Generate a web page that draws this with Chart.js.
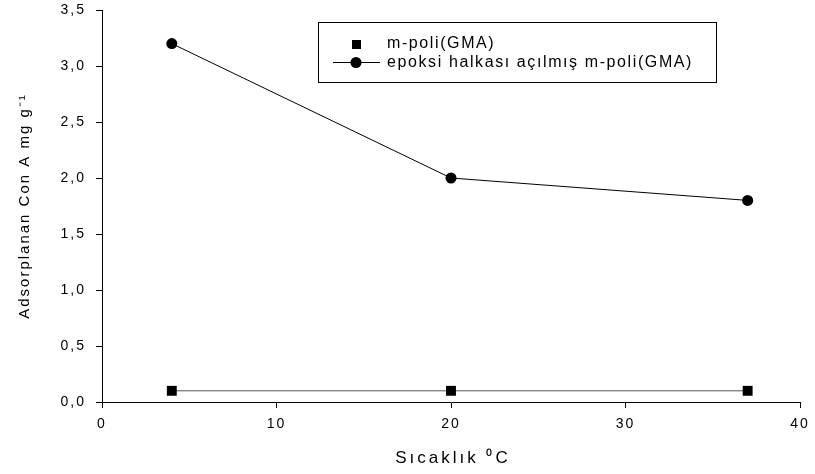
<!DOCTYPE html>
<html>
<head>
<meta charset="utf-8">
<script src="https://cdn.jsdelivr.net/npm/chart.js@4.4.1/dist/chart.umd.min.js"></script>
<style>
  html, body { margin: 0; padding: 0; background: #fff; }
  #wrap { width: 815px; height: 474px; position: relative; }
</style>
</head>
<body>
<div id="wrap"><canvas id="chart"></canvas></div>
<script>
// sıcaklık (°C) ve adsorplanan Con A miktarları
const temps = [4, 20, 37];
const mPoli = [0.1, 0.1, 0.1];
const epoksAcik = [3.2, 2.0, 1.8];
const xTicks = [0, 10, 20, 30, 40];
const yTicks = [0, 0.5, 1.0, 1.5, 2.0, 2.5, 3.0, 3.5];
const seriesNames = ['m-poli(GMA)', 'epoksi halkası açılmış m-poli(GMA)'];

const FONT = 'Liberation Sans, Arial, sans-serif';

function toPoints(ys) {
    return temps.map((t, i) => ({ x: t, y: ys[i] }));
}

// harf aralığı (eski SigmaPlot çıktısı gibi)
const spacing = {
    id: 'spacing',
    beforeLayout(chart) { chart.ctx.letterSpacing = '2px'; },
    beforeDraw(chart) { chart.ctx.letterSpacing = '2px'; }
};

// kutulu açıklama + x ekseni başlığı
const boxLegend = {
    id: 'boxLegend',
    afterDraw(chart) {
        const ctx = chart.ctx;
        const area = chart.chartArea;
        ctx.save();
        ctx.letterSpacing = '1.6px';
        ctx.strokeStyle = '#000';
        ctx.lineWidth = 1;
        ctx.strokeRect(318.5, 22.5, 398, 60);

        ctx.fillStyle = '#000';
        ctx.fillRect(352, 40, 9, 9);

        ctx.beginPath();
        ctx.moveTo(333, 62.5);
        ctx.lineTo(380, 62.5);
        ctx.stroke();
        ctx.beginPath();
        ctx.arc(356, 62.5, 5.5, 0, Math.PI * 2);
        ctx.fill();

        ctx.font = '16px ' + FONT;
        ctx.textBaseline = 'middle';
        ctx.fillText(seriesNames[0], 387, 44);
        ctx.fillText(seriesNames[1], 387, 63);

        ctx.letterSpacing = '3px';
        ctx.font = '17px ' + FONT;
        ctx.textAlign = 'center';
        ctx.fillText('Sıcaklık ⁰C', (area.left + area.right) / 2 + 2, 458);
        ctx.restore();
    }
};

new Chart(document.getElementById('chart'), {
    type: 'scatter',
    data: {
        datasets: [
            {
                label: seriesNames[0],
                data: toPoints(mPoli),
                showLine: true,
                borderColor: '#555',
                borderWidth: 1,
                pointStyle: 'rect',
                pointRadius: 7,
                pointBackgroundColor: '#000',
                pointBorderColor: '#000',
                pointBorderWidth: 0
            },
            {
                label: seriesNames[1],
                data: toPoints(epoksAcik),
                showLine: true,
                borderColor: '#000',
                borderWidth: 1,
                pointStyle: 'circle',
                pointRadius: 5.5,
                pointBackgroundColor: '#000',
                pointBorderColor: '#000',
                pointBorderWidth: 0
            }
        ]
    },
    options: {
        responsive: true,
        maintainAspectRatio: false,
        animation: false,
        layout: { padding: { top: 10, right: 15, left: 0, bottom: 0 } },
        plugins: {
            legend: { display: false },
            tooltip: { enabled: false }
        },
        scales: {
            x: {
                type: 'linear',
                min: 0,
                max: 40,
                afterBuildTicks: s => { s.ticks = xTicks.map(v => ({ value: v })); },
                afterFit: s => { s.height = 72; s.paddingLeft = 0; s.paddingRight = 0; },
                border: { color: '#000', width: 1 },
                grid: { drawOnChartArea: false, color: '#000', tickLength: 6 },
                ticks: { color: '#000', font: { family: FONT, size: 14 }, padding: 8, maxRotation: 0 },
                title: { display: false }
            },
            y: {
                type: 'linear',
                min: 0,
                max: 3.5,
                afterBuildTicks: s => { s.ticks = yTicks.map(v => ({ value: v })); },
                afterFit: s => { s.width = 102; s.paddingTop = 0; s.paddingBottom = 0; },
                border: { color: '#000', width: 1 },
                grid: { drawOnChartArea: false, color: '#000', tickLength: 6 },
                ticks: {
                    color: '#000',
                    font: { family: FONT, size: 14 },
                    padding: 10,
                    callback: v => v.toFixed(1).replace('.', ',')
                },
                title: {
                    display: true,
                    text: 'Adsorplanan Con A mg g⁻¹',
                    color: '#000',
                    font: { family: FONT, size: 15 },
                    padding: { top: 16, bottom: 0 }
                }
            }
        }
    },
    plugins: [spacing, boxLegend]
});
</script>
</body>
</html>
